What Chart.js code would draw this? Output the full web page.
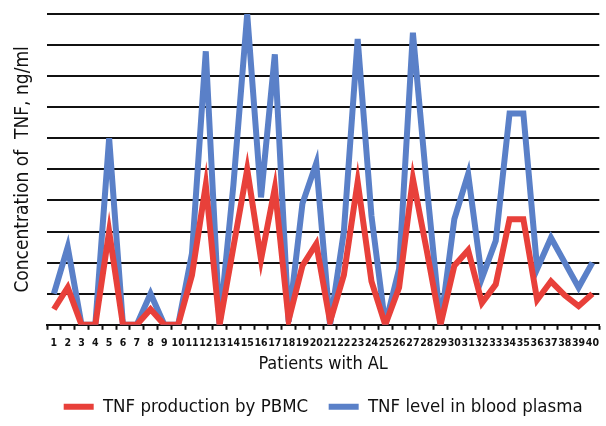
<!DOCTYPE html>
<html>
<head>
<meta charset="utf-8">
<script src="https://cdn.jsdelivr.net/npm/chart.js@4"></script>
<style>
  html, body { margin: 0; padding: 0; background: #fff; }
  #wrap { width: 606px; height: 426px; }
</style>
</head>
<body>
<div id="wrap"><canvas id="tnfChart"></canvas></div>
<script>
var patients = [];
for (var i = 1; i <= 40; i++) patients.push(String(i));

var pbmc = [0.5, 1.2, 0, 0, 3.0, 0, 0, 0.5, 0, 0,
            1.6, 4.5, 0, 2.5, 5.0, 2.1, 4.4, 0.15, 1.9, 2.6,
            0.1, 1.6, 4.6, 1.4, 0, 1.2, 4.7, 2.4, 0, 1.9,
            2.4, 0.7, 1.3, 3.4, 3.4, 0.8, 1.4, 0.95, 0.6, 1.0];

var plasma = [1.0, 2.5, 0, 0, 6.0, 0, 0, 1.0, 0, 0,
              2.3, 8.8, 0, 4.5, 10.0, 4.1, 8.7, 0.1, 3.9, 5.2,
              0, 3.0, 9.2, 3.5, 0, 1.8, 9.4, 4.5, 0, 3.4,
              4.85, 1.5, 2.7, 6.8, 6.8, 1.8, 2.8, 2.0, 1.2, 2.0];

var yTicks = [0, 1, 2, 3, 4, 5, 6, 7, 8, 9, 10];

var narrow = "'Liberation Sans Narrow', 'DejaVu Sans Condensed', Arial, sans-serif";
var redCol = "#e8403a";
var blueCol = "#5a80c8";

Chart.defaults.font.family = narrow;
Chart.defaults.color = "#111";

// legend is centred under the plot area, not the whole canvas
var shiftLegend = {
  id: "shiftLegend",
  afterLayout: function (chart) {
    var lg = chart.legend;
    var dx = (chart.chartArea.left + chart.chartArea.right) / 2 - (lg.left + lg.right) / 2;
    lg.left += dx;
    lg.right += dx;
  }
};

var ctx = document.getElementById("tnfChart");
new Chart(ctx, {
  type: "line",
  data: {
    labels: patients,
    datasets: [
      {
        label: "TNF production by PBMC",
        data: pbmc,
        borderColor: redCol,
        backgroundColor: redCol,
        borderWidth: 6,
        pointRadius: 0,
        tension: 0,
        order: 1
      },
      {
        label: "TNF level in blood plasma",
        data: plasma,
        borderColor: blueCol,
        backgroundColor: blueCol,
        borderWidth: 6,
        pointRadius: 0,
        tension: 0,
        order: 2
      }
    ]
  },
  plugins: [shiftLegend],
  options: {
    responsive: true,
    maintainAspectRatio: false,
    animation: false,
    layout: { padding: { top: 14, right: 2, bottom: 0, left: 0 } },
    plugins: {
      tooltip: { enabled: false },
      legend: {
        position: "bottom",
        labels: {
          boxWidth: 30,
          boxHeight: 6,
          padding: 20.5,
          color: "#111",
          font: { size: 18.5 },
          generateLabels: function (chart) {
            var items = Chart.defaults.plugins.legend.labels.generateLabels(chart);
            items.forEach(function (it) { it.lineWidth = 0; });
            return items;
          }
        }
      }
    },
    scales: {
      x: {
        offset: true,
        afterFit: function (s) { s.height -= 9; },
        grid: {
          offset: true,
          drawOnChartArea: false,
          drawTicks: true,
          tickLength: 5,
          tickColor: "#111",
          tickWidth: 2
        },
        border: { color: "#111", width: 2 },
        ticks: {
          autoSkip: false,
          maxRotation: 0,
          padding: 7,
          color: "#111",
          font: { size: 10.5, weight: "bold" }
        },
        title: {
          display: true,
          text: "Patients with AL",
          color: "#111",
          font: { size: 18 },
          padding: { top: 6, bottom: 2 }
        }
      },
      y: {
        min: 0,
        max: 10,
        afterBuildTicks: function (s) {
          s.ticks = yTicks.map(function (v) { return { value: v }; });
        },
        afterFit: function (s) { s.width = 47; },
        grid: {
          color: "#111",
          lineWidth: 2,
          drawTicks: false
        },
        border: { display: false },
        ticks: { display: false },
        title: {
          display: true,
          text: "Concentration of  TNF, ng/ml",
          color: "#111",
          font: { size: 19 },
          padding: { top: 12, bottom: 0 }
        }
      }
    }
  }
});
</script>
</body>
</html>
